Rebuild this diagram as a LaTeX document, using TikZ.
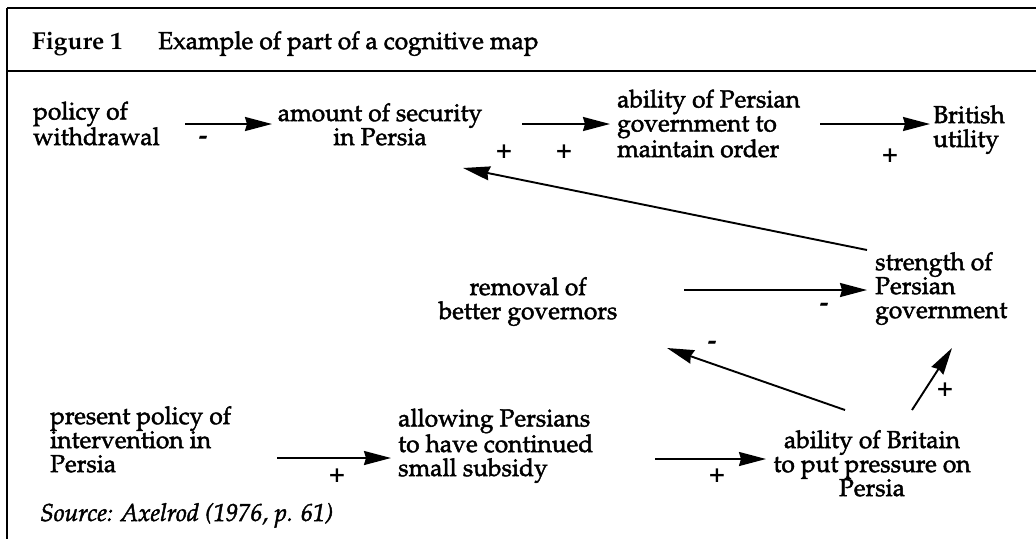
\documentclass[tikz,border=0pt]{standalone}
\usepackage[T1]{fontenc}
\usepackage{mathpazo}
\usepackage{tikz}
\usetikzlibrary{
    arrows.meta,
    positioning
}
% slightly heavier strokes, like the printed original
\newcommand{\inkier}{\special{pdf:literal direct 2 Tr 0.45 w}}

\begin{document}
\begin{tikzpicture}[
    x=1pt, y=-1pt,
    font=\fontsize{24.5}{24}\selectfont\inkier,
    concept/.style={
    	inner sep=0pt, align=left, anchor=base west
    }, mid/.style={
    	concept, align=center, anchor=base
    }, sign/.style={
    	inner sep=0pt, font=\fontsize{27}{27}\selectfont\bfseries
    }, link/.style={
    	-{Stealth[length=27pt,width=14pt,inset=2pt]},
    	line width=1.9pt
    }]
    \useasboundingbox (0,0) rectangle (1036,539);

    %%% FRAME
    \draw[line width=2.4pt] (7,8) -- (1036,8);
    \draw[line width=2pt] (7,71) -- (1036,71);
    \draw[line width=1.5pt] (7,8) -- (7,539);

    \node[concept, font=\fontsize{24.5}{24}\selectfont\bfseries] (fig-num) at (32,49) {Figure 1};
    \node[concept] (fig-title) at (158,49) {Example of part of a cognitive map};

    %%% CONCEPTS (placed by the baseline of the last line)
    \node[concept] (withdrawal) at (33,145) {policy of\\withdrawal};
    \node[mid] (security) at (380,145) {amount of security\\in Persia};
    \node[concept] (order) at (617,157) {ability of Persian\\government to\\maintain order};
    \node[concept] (utility) at (933,147) {British\\utility};

    \node[concept] (strength) at (875,318) {strength of\\Persian\\government};
    \node[mid] (governors) at (528,319) {removal of\\better governors};

    \node[concept] (intervention) at (50,472) {present policy of\\intervention in\\Persia};
    \node[concept] (subsidy) at (398,476) {allowing Persians\\to have continued\\small subsidy};
    \node[mid] (pressure) at (872,496) {ability of Britain\\to put pressure on\\Persia};

    \node[concept, font=\fontsize{24.5}{24}\selectfont\itshape\inkier] (source) at (40,521) {Source: Axelrod (1976, p. 61)};

    %%% SIGNS
    \node[sign] (s-wd) at (203,140) {-};
    \node[sign] (s-st) at (504,152) {+};
    \node[sign] (s-so) at (564,152) {+};
    \node[sign] (s-ou) at (890,156) {+};
    \node[sign] (s-gs) at (824,307) {-};
    \node[sign] (s-pg) at (712,345) {-};
    \node[sign] (s-ps) at (945,390) {+};
    \node[sign] (s-is) at (337,476) {+};
    \node[sign] (s-sp) at (717,476) {+};

    %%% EDGES
    \coordinate (wd-out) at (185,124);
    \coordinate (sec-in) at (272,124);
    \coordinate (sec-out) at (522,124);
    \coordinate (ord-in) at (610,124);
    \coordinate (ord-out) at (820,124);
    \coordinate (utl-in) at (930,124);
    \coordinate (str-top) at (867,250);
    \coordinate (sec-low) at (463,168);
    \coordinate (gov-out) at (684,290);
    \coordinate (str-in) at (867,290);
    \coordinate (prs-left) at (845,410);
    \coordinate (gov-low) at (667,348);
    \coordinate (prs-right) at (912,410);
    \coordinate (str-low) at (952,348);
    \coordinate (int-out) at (277,458);
    \coordinate (sub-in) at (391,458);
    \coordinate (sub-out) at (655,459);
    \coordinate (prs-in) at (766,459);

    \draw[link] (wd-out) -- (sec-in);
    \draw[link] (sec-out) -- (ord-in);
    \draw[link] (ord-out) -- (utl-in);
    \draw[link] (str-top) -- (sec-low);
    \draw[link] (gov-out) -- (str-in);
    \draw[link] (prs-left) -- (gov-low);
    \draw[link] (prs-right) -- (str-low);
    \draw[link] (int-out) -- (sub-in);
    \draw[link] (sub-out) -- (prs-in);
    %%% EDGES

\end{tikzpicture}
\end{document}
